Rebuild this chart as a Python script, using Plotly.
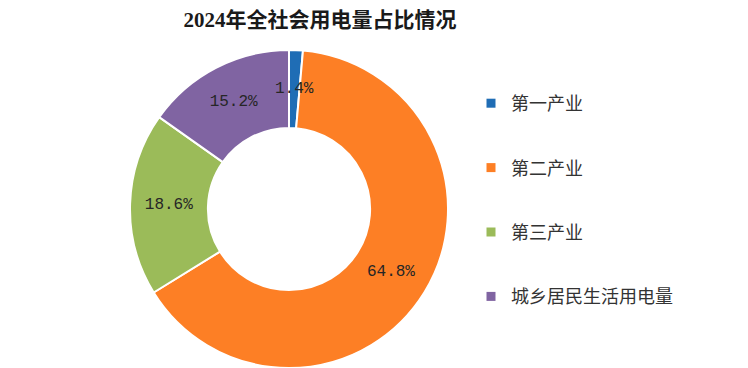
import math
import plotly.graph_objects as go

title_text = "2024年全社会用电量占比情况"
labels = ["第一产业", "第二产业", "第三产业", "城乡居民生活用电量"]
values = [1.4, 64.8, 18.6, 15.2]
colors = ["#1F6DB5", "#FD7F25", "#9BBB59", "#8064A2"]

W, H = 748, 368
OFF = 8  # page body margin
cx, cy, R = 289 - OFF, 209 - OFF, 159
HOLE = 0.51

text_font = dict(family="Liberation Mono, DejaVu Sans Mono, monospace", size=16, color="#262626")

# slices too thin for inside text get an annotation at the ring middle
total = sum(values)
thin = [v / total < 0.03 for v in values]
textpos = ["none" if t else "inside" for t in thin]

fig = go.Figure()
fig.add_trace(go.Pie(
    labels=labels,
    values=values,
    sort=False,
    direction="clockwise",
    rotation=0,
    hole=HOLE,
    marker=dict(colors=colors, line=dict(color="white", width=2)),
    texttemplate="%{value:.1f}%",
    textposition=textpos,
    insidetextorientation="horizontal",
    textfont=text_font,
    hoverinfo="label+value",
    showlegend=False,
    domain=dict(x=[(cx - R) / W, (cx + R) / W], y=[(H - cy - R) / H, (H - cy + R) / H]),
))

cum = 0.0
rm = R * (1 + HOLE) / 2
for v, t in zip(values, thin):
    mid = (cum + v / 2) / total * 2 * math.pi
    cum += v
    if t:
        px = cx + rm * math.sin(mid)
        py = cy - rm * math.cos(mid)
        fig.add_annotation(
            x=px / W, y=1 - py / H, xref="paper", yref="paper",
            text=f"{v:.1f}%", showarrow=False, font=text_font,
            xanchor="center", yanchor="middle",
        )

for lab, col in zip(labels, colors):
    fig.add_trace(go.Scatter(
        x=[None], y=[None], mode="markers", name=lab,
        marker=dict(symbol="square", size=9, color=col),
        legendgroup=lab, showlegend=True, hoverinfo="skip",
    ))

fig.update_layout(
    width=W, height=H,
    margin=dict(l=0, r=0, t=0, b=0),
    paper_bgcolor="white", plot_bgcolor="white",
    title=dict(
        text="<b>" + title_text + "</b>",
        x=(320 - OFF) / W, xanchor="center", xref="paper",
        y=1 - 12 / H, yanchor="middle", yref="container",
        font=dict(family="Liberation Serif, Noto Sans CJK SC, serif", size=21, color="#1a1a1a"),
    ),
    legend=dict(
        x=463 / W, xanchor="left", y=1 - 77 / H, yanchor="top",
        font=dict(family="Noto Sans CJK SC, sans-serif", size=18, color="#333333"),
        tracegroupgap=38, itemwidth=30, bgcolor="rgba(0,0,0,0)",
    ),
    xaxis=dict(visible=False), yaxis=dict(visible=False),
)

fig.write_html("out.html")
